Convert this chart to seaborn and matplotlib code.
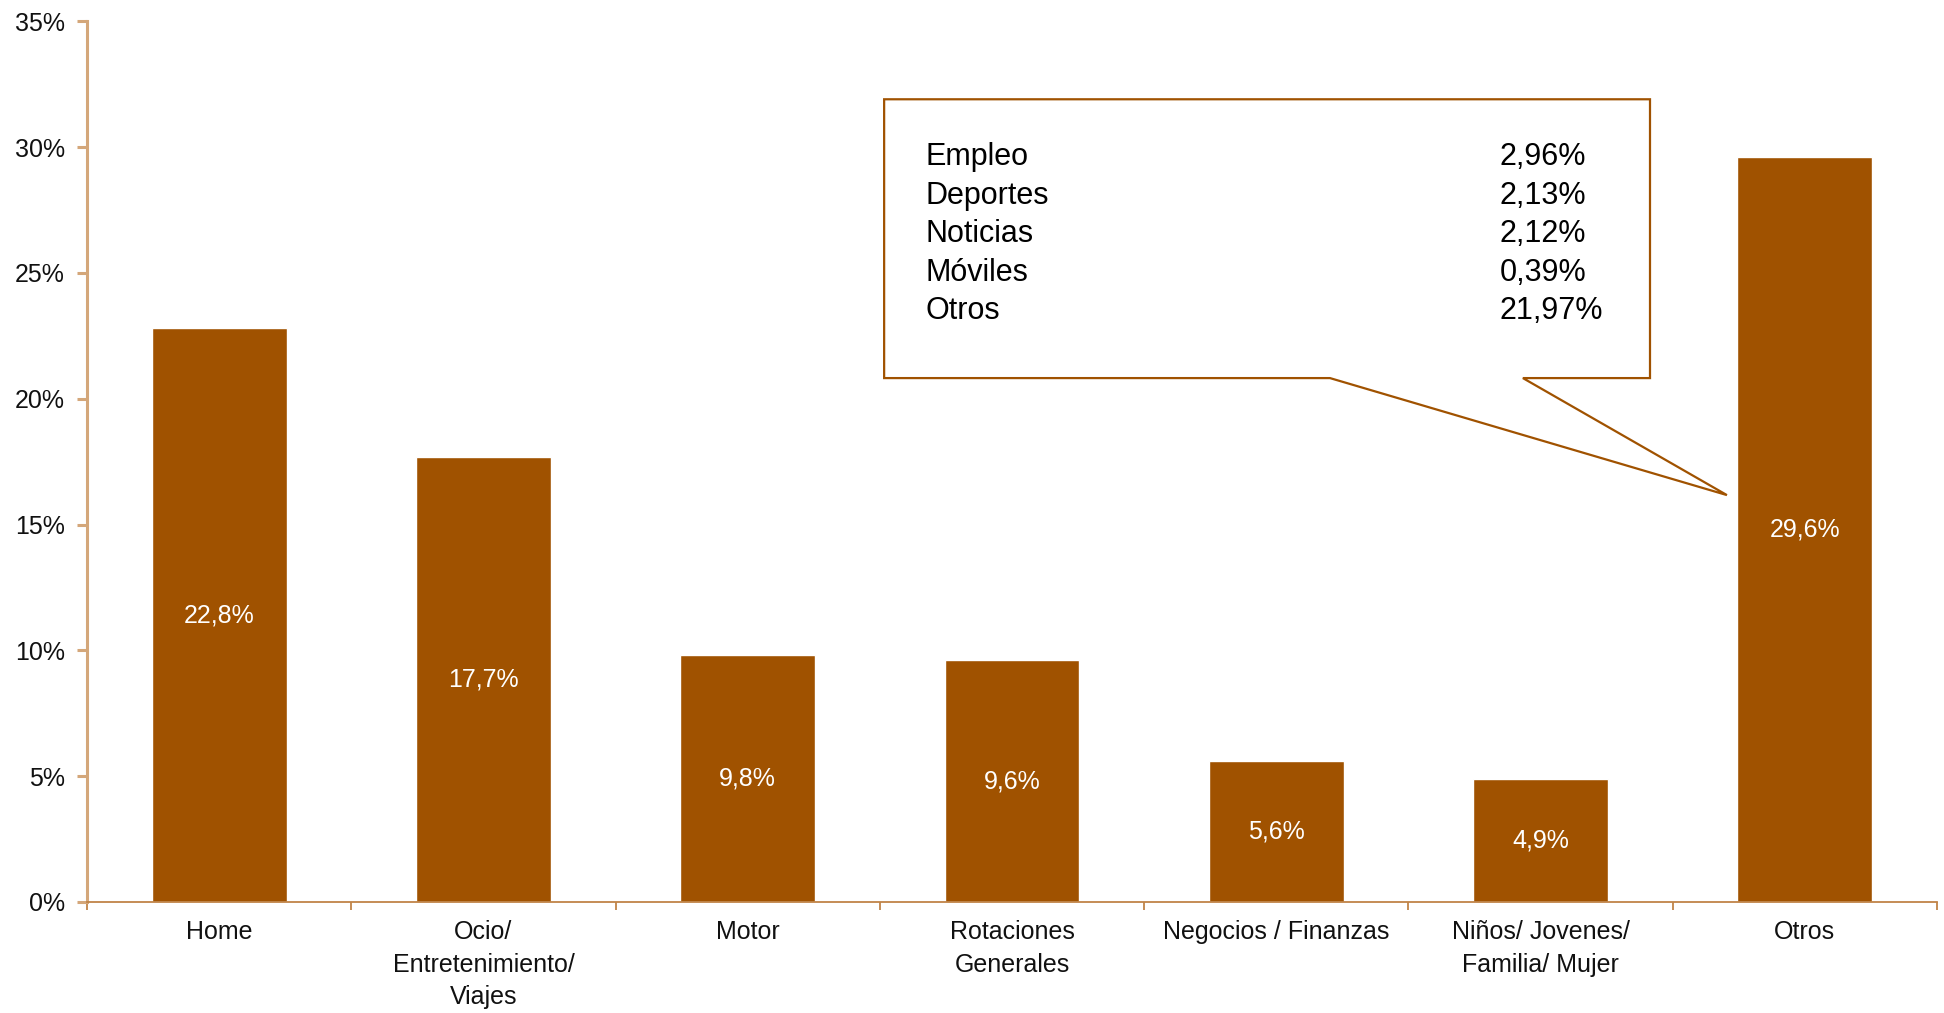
import matplotlib
matplotlib.use("Agg")
import matplotlib.pyplot as plt
import seaborn as sns
from matplotlib.patches import Polygon
from matplotlib.ticker import FixedLocator, FuncFormatter

# data
categories = [
    "Home",
    "Ocio/\nEntretenimiento/\nViajes",
    "Motor",
    "Rotaciones\nGenerales",
    "Negocios / Finanzas",
    "Niños/ Jovenes/\nFamilia/ Mujer",
    "Otros",
]
values = [22.8, 17.7, 9.8, 9.6, 5.6, 4.9, 29.6]

callout_names = ["Empleo", "Deportes", "Noticias", "Móviles", "Otros"]
callout_values = ["2,96%", "2,13%", "2,12%", "0,39%", "21,97%"]

bar_color = "#A05200"

sns.set_style("white")
plt.rcParams["font.family"] = ["Liberation Sans", "DejaVu Sans"]

fig = plt.figure(figsize=(19.44, 10.13), dpi=100)
ax = fig.add_axes([0.0448, 0.1096, 0.9516, 0.8694])

sns.barplot(x=categories, y=values, color=bar_color, width=0.51,
            saturation=1, ax=ax)

# value labels inside the bars
labels = [("%.1f%%" % v).replace(".", ",") for v in values]
ax.bar_label(ax.containers[0], labels=labels, label_type="center",
             color="white", fontsize=18)

ax.set_xlim(-0.5, len(categories) - 0.5)
ax.set_ylim(0, 35)
ax.set_yticks(range(0, 36, 5))
ax.yaxis.set_major_formatter(FuncFormatter(lambda v, p: "%d%%" % v))

# spines
for s in ["top", "right"]:
    ax.spines[s].set_visible(False)
ax.spines["left"].set_color("#D4A77A")
ax.spines["left"].set_linewidth(2.2)
ax.spines["bottom"].set_color("#C08448")
ax.spines["bottom"].set_linewidth(1.3)

ax.tick_params(axis="y", which="major", left=True, length=7, width=2.2,
               color="#D4A77A", pad=9, labelsize=18, labelcolor="#111111")
ax.tick_params(axis="x", which="major", length=0, pad=13, labelsize=18,
               labelcolor="#111111")
ax.xaxis.set_minor_locator(FixedLocator([i - 0.5 for i in range(len(categories) + 1)]))
ax.tick_params(axis="x", which="minor", bottom=True, length=6, width=1.3,
               color="#C08448")
for t in ax.get_xticklabels():
    t.set_linespacing(1.45)

ax.set_xlabel("")
ax.set_ylabel("")

# callout box with pointer to "Otros"
callout = Polygon(
    [(2.516, 31.9), (5.414, 31.9), (5.414, 20.82), (4.933, 20.82),
     (5.705, 16.17), (4.203, 20.82), (2.516, 20.82)],
    closed=True, facecolor="white", edgecolor=bar_color, linewidth=1.6,
    zorder=5,
)
ax.add_patch(callout)

for i, (name, val) in enumerate(zip(callout_names, callout_values)):
    y = 29.6 - i * 1.53
    ax.text(2.671, y, name, fontsize=22, va="center", ha="left",
            color="black", zorder=6)
    ax.text(4.846, y, val, fontsize=22, va="center", ha="left",
            color="black", zorder=6)

plt.savefig("out.png", dpi=100)
